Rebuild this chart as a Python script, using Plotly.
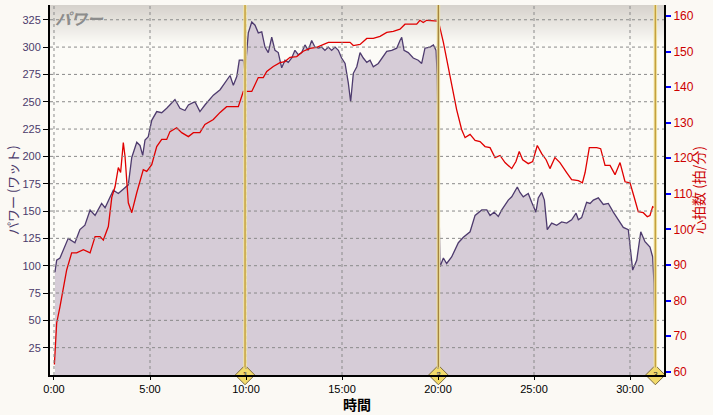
import plotly.graph_objects as go

# ---- data (minutes, watts, bpm) ----
time_power = [0.05, 0.14, 0.31, 0.48, 0.74, 1.09, 1.35, 1.61, 1.88, 2.14, 2.48, 2.66, 2.92, 3.09,
              3.35, 3.70, 3.87, 4.05, 4.31, 4.48, 4.62, 4.74, 4.91, 5.09, 5.35, 5.61, 5.87, 6.30,
              6.56, 6.82, 7.00, 7.34, 7.60, 7.86, 8.30, 8.65, 9.17, 9.34, 9.52, 9.65, 9.86, 9.95,
              10.12, 10.30, 10.47, 10.64, 10.82, 10.99, 11.16, 11.34, 11.51, 11.68, 11.86, 12.03,
              12.20, 12.38, 12.55, 12.72, 12.90, 13.07, 13.24, 13.42, 13.59, 13.77, 13.94, 14.11,
              14.29, 14.46, 14.64, 14.81, 14.98, 15.16, 15.33, 15.45, 15.59, 15.77, 15.94, 16.11,
              16.29, 16.46, 16.63, 16.89, 17.15, 17.33, 17.59, 17.85, 18.02, 18.11, 18.23, 18.45,
              18.71, 18.97, 19.15, 19.32, 19.58, 19.76, 19.90, 19.96, 20.10, 20.28, 20.45, 20.71,
              21.06, 21.32, 21.67, 21.93, 22.28, 22.54, 22.71, 22.92, 23.14, 23.32, 23.66, 23.84,
              24.13, 24.27, 24.44, 24.70, 24.88, 25.10, 25.22, 25.40, 25.54, 25.69, 25.92, 26.18,
              26.44, 26.70, 26.96, 27.19, 27.31, 27.48, 27.74, 27.92, 28.09, 28.35, 28.61, 28.87,
              29.13, 29.39, 29.65, 29.91, 30.04, 30.14, 30.35, 30.56, 30.78, 31.04, 31.18, 31.25,
              31.30]
power = [94, 105, 107, 114, 125, 121, 133, 137, 151, 146, 157, 153, 163, 169,
         166, 171, 174, 199, 213, 210, 201, 215, 218, 233, 241, 240, 244, 252,
         244, 242, 247, 250, 241, 247, 256, 261, 274, 265, 273, 288, 288, 277,
         313, 323, 320, 313, 314, 300, 295, 309, 297, 295, 281, 288,
         286, 290, 297, 293, 295, 302, 297, 306, 300, 299, 300, 297,
         300, 297, 300, 297, 290, 285, 267, 250, 276, 282, 295, 290,
         286, 288, 282, 285, 291, 296, 297, 299, 306, 309, 297, 295,
         290, 288, 285, 299, 300, 302, 297, 273, 99, 107, 102, 108,
         121, 126, 131, 146, 151, 151, 146, 149, 145, 151, 160, 163,
         172, 167, 163, 166, 158, 149, 162, 167, 160, 133, 139, 137,
         140, 139, 142, 148, 142, 144, 158, 157, 160, 162, 156, 157,
         149, 142, 135, 133, 114, 96, 105, 131, 122, 117, 108, 84,
         30]

time_hr = [0.02, 0.05, 0.14, 0.31, 0.48, 0.66, 0.92, 1.18, 1.53, 1.88, 2.14, 2.40, 2.57, 2.83,
           3.01, 3.18, 3.35, 3.47, 3.61, 3.70, 3.87, 4.05, 4.31, 4.65, 4.83, 5.09, 5.35, 5.61,
           5.87, 6.04, 6.39, 6.65, 7.00, 7.26, 7.60, 7.86, 8.30, 8.65, 8.99, 9.60, 9.86, 10.30,
           10.64, 10.90, 11.08, 11.42, 11.77, 12.03, 12.29, 12.64, 12.98, 13.33, 13.68, 14.29,
           14.90, 15.42, 15.59, 15.94, 16.29, 16.63, 16.98, 17.33, 17.67, 18.02, 18.28, 18.89,
           19.06, 19.23, 19.41, 19.93, 20.02, 20.28, 20.63, 20.97, 21.23, 21.41, 21.67, 21.93,
           22.19, 22.45, 22.71, 22.97, 23.23, 23.49, 23.84, 24.06, 24.23, 24.41, 24.70, 24.93,
           25.17, 25.40, 25.63, 25.83, 26.09, 26.35, 26.70, 26.96, 27.31, 27.52, 27.66, 27.88,
           28.27, 28.47, 28.70, 28.96, 29.22, 29.48, 29.74, 30.00, 30.21, 30.43, 30.69, 30.90,
           31.04, 31.18, 31.30]
hr = [62, 64.2, 73.7, 78.2, 83, 88.6, 93.4, 93.4, 94.3, 93.4, 98, 98, 97, 100.8,
      109, 112, 117.4, 116, 124.4, 120.5, 107.5, 104.7, 110.3, 116.8, 116.3, 118.2, 123.3, 125.3,
      125.3, 127.5, 128.6, 127.2, 126.1, 127.2, 127.2, 129.5, 130.9, 132.9, 134.5, 134.5, 138.8, 138.8,
      142.7, 142.7, 144.4, 145.8, 146.9, 147.2, 148.4, 148.6, 150.1, 150.9, 151.2, 152.6,
      152.6, 152.6, 151.7, 152, 153.7, 153.7, 154.3, 155.4, 155.7, 156.3, 157.7, 157.7,
      158.8, 158.2, 158.8, 158.8, 158.6, 152.6, 143, 133.7, 128.1, 125.8, 126.7, 125,
      124.7, 123.3, 123, 120.2, 120.8, 118.8, 117.1, 119.1, 121.9, 119.6, 118.5, 119.1,
      123.6, 121.3, 119.6, 117.1, 120.2, 118.8, 116, 114, 113.7, 113.1, 116, 123,
      123, 122.7, 118, 118, 115.4, 118.8, 113.4, 113.1, 109.2, 105, 104.7, 103.6,
      103.9, 106.4, 106.1]

lap_times = [9.95, 20.02, 31.32]
lap_labels = ["1", "2", "3"]

x_tickvals = [0, 5, 10, 15, 20, 25, 30]
x_ticktext = ["0:00", "5:00", "10:00", "15:00", "20:00", "25:00", "30:00"]
power_ticks = [25, 50, 75, 100, 125, 150, 175, 200, 225, 250, 275, 300, 325]
hr_ticks = [60, 70, 80, 90, 100, 110, 120, 130, 140, 150, 160]

X_RANGE = [-0.208, 31.77]
P_RANGE = [0, 338.5]
H_RANGE = [59.07, 163.1]

fig = go.Figure()

fig.add_trace(go.Scatter(
    x=time_power, y=power, mode="lines", yaxis="y",
    line=dict(color="#4E3B6E", width=1.3), fill="tozeroy", fillcolor="#D6CCD7",
    hoverinfo="skip", showlegend=False))

fig.add_trace(go.Scatter(
    x=lap_times, y=[0] * len(lap_times), mode="markers+text", yaxis="y",
    text=lap_labels, textposition="middle center",
    textfont=dict(size=8, color="#222", family="Liberation Sans"),
    marker=dict(symbol="diamond", size=15, color="#F2DA6A",
                line=dict(color="#7A6A40", width=1)),
    cliponaxis=False, hoverinfo="skip", showlegend=False))

fig.add_trace(go.Scatter(
    x=time_hr, y=hr, mode="lines", yaxis="y2",
    line=dict(color="#E00000", width=1.3), hoverinfo="skip", showlegend=False))

shapes = []
# top gray gradient band
n = 40
top = (214, 210, 204)
bot = (252, 251, 247)
band_h = 40 / 370
for i in range(n):
    f = i / (n - 1)
    c = tuple(int(round(top[k] + (bot[k] - top[k]) * f)) for k in range(3))
    shapes.append(dict(type="rect", xref="paper", yref="paper", layer="below",
                       x0=0, x1=1, y0=1 - band_h * (i + 1) / n, y1=1 - band_h * i / n,
                       line=dict(width=0), fillcolor="rgb(%d,%d,%d)" % c))
# dotted grid lines (drawn above the filled area as in the reference)
for v in x_tickvals:
    shapes.append(dict(type="line", xref="x", yref="paper", x0=v, x1=v, y0=0, y1=1,
                       layer="above", line=dict(color="#8A8A8A", width=1, dash="dot")))
for v in power_ticks:
    shapes.append(dict(type="line", xref="paper", yref="y", x0=0, x1=1, y0=v, y1=v,
                       layer="above", line=dict(color="#8A8A8A", width=1, dash="dot")))
# lap lines
lap_core = ["#C4A040", "#A48440", "#C4A040"]
for t, col in zip(lap_times, lap_core):
    shapes.append(dict(type="line", xref="x", yref="paper", x0=t, x1=t, y0=0.02, y1=1,
                       layer="above", line=dict(color="#F3E7A8", width=3.5)))
    shapes.append(dict(type="line", xref="x", yref="paper", x0=t, x1=t, y0=0.02, y1=1,
                       layer="above", line=dict(color=col, width=1.5)))

annotations = [
    dict(text="パワー", xref="paper", yref="paper", x=0, y=1, xanchor="left", yanchor="top",
         xshift=3, yshift=1, showarrow=False,
         font=dict(family="Noto Sans CJK JP", size=16, color="#8C8C8C", style="italic", weight="bold")),
    dict(text="パワー (ワット)", xref="paper", yref="paper", x=0, y=0.5, xanchor="center",
         yanchor="middle", xshift=-38, textangle=-90, showarrow=False,
         font=dict(family="Noto Sans CJK JP", size=13, color="#4B3B6B")),
    dict(text="心拍数 (拍/分)", xref="paper", yref="paper", x=1, y=0.5, xanchor="center",
         yanchor="middle", xshift=34, textangle=-90, showarrow=False,
         font=dict(family="Noto Sans CJK JP", size=14, color="#CC0000")),
    dict(text="<b>時間</b>", xref="paper", yref="paper", x=0.5, y=0, xanchor="center",
         yanchor="top", yshift=-17, showarrow=False,
         font=dict(family="Noto Sans CJK JP", size=14, color="#000000")),
]

fig.update_layout(
    width=713, height=415,
    margin=dict(l=50, r=49, t=5, b=40),
    paper_bgcolor="#FBF9F4", plot_bgcolor="#FCFBF7",
    shapes=shapes, annotations=annotations, showlegend=False,
    xaxis=dict(range=X_RANGE, tickmode="array", tickvals=x_tickvals, ticktext=x_ticktext,
               ticks="outside", ticklen=3, tickcolor="#000", showline=True, linecolor="#000",
               linewidth=2, showgrid=False, zeroline=False, automargin=False,
               tickfont=dict(family="Liberation Sans", size=11, color="#000")),
    yaxis=dict(range=P_RANGE, tickmode="array", tickvals=power_ticks, ticks="outside",
               ticklen=5, tickcolor="#000", showline=True, linecolor="#000", linewidth=2,
               showgrid=False, zeroline=False, automargin=False,
               tickfont=dict(family="Liberation Sans", size=11, color="#4B3B6B")),
    yaxis2=dict(range=H_RANGE, overlaying="y", side="right", tickmode="array",
                tickvals=hr_ticks, ticks="outside", ticklen=5, tickwidth=1.5,
                tickcolor="#0000FF", showline=True, linecolor="#000", linewidth=2,
                showgrid=False, zeroline=False, automargin=False,
                tickfont=dict(family="Liberation Sans", size=12, color="#CC0000")),
)

fig.write_html("out.html", config={"displayModeBar": False},
               post_script="document.body.style.margin='0';document.body.style.background='#FBF9F4';")
